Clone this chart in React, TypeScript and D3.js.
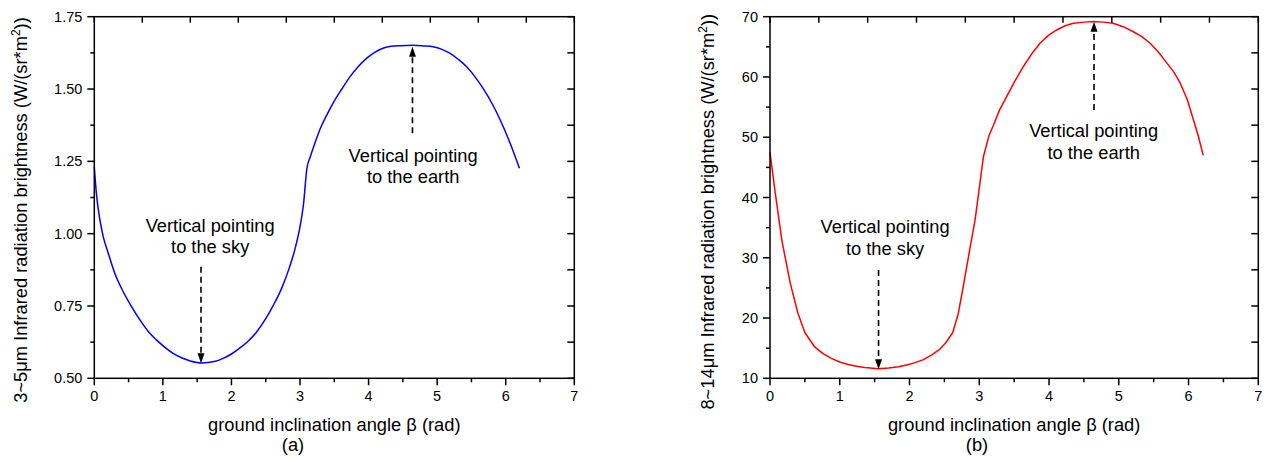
import React from 'react';
import * as d3 from 'd3';

// ---------- data ----------
const xTicks = [0, 1, 2, 3, 4, 5, 6, 7];
const xTickLabels = ['0', '1', '2', '3', '4', '5', '6', '7'];

const yTicksA = [0.5, 0.75, 1.0, 1.25, 1.5, 1.75];
const yTickLabelsA = ['0.50', '0.75', '1.00', '1.25', '1.50', '1.75'];

const yTicksB = [10, 20, 30, 40, 50, 60, 70];
const yTickLabelsB = ['10', '20', '30', '40', '50', '60', '70'];

// (a) 3~5 μm
const betaA = [0, 0.03, 0.08, 0.13, 0.2, 0.3, 0.42, 0.55, 0.67, 0.8, 0.91, 1.03, 1.15, 1.28, 1.4, 1.57, 1.75, 1.88, 2.0, 2.12, 2.25, 2.37, 2.5, 2.61, 2.73, 2.85, 2.93, 3.0, 3.05, 3.1, 3.15, 3.22, 3.29, 3.39, 3.49, 3.61, 3.73, 3.85, 3.97, 4.09, 4.21, 4.33, 4.46, 4.64, 4.8, 4.94, 5.07, 5.19, 5.31, 5.43, 5.55, 5.67, 5.8, 5.92, 6.06, 6.2];
const brightA = [1.231, 1.14, 1.05, 0.99, 0.935, 0.862, 0.8, 0.745, 0.7, 0.658, 0.632, 0.607, 0.586, 0.57, 0.56, 0.553, 0.558, 0.569, 0.584, 0.604, 0.63, 0.661, 0.706, 0.752, 0.81, 0.886, 0.95, 1.024, 1.1, 1.225, 1.266, 1.315, 1.36, 1.41, 1.455, 1.5, 1.543, 1.578, 1.606, 1.627, 1.641, 1.648, 1.65, 1.651, 1.649, 1.646, 1.637, 1.623, 1.602, 1.577, 1.543, 1.502, 1.45, 1.393, 1.315, 1.226];

// (b) 8~14 μm
const betaB = [0, 0.07, 0.17, 0.29, 0.4, 0.5, 0.64, 0.76, 0.88, 1.0, 1.12, 1.24, 1.36, 1.55, 1.7, 1.84, 1.96, 2.08, 2.2, 2.32, 2.44, 2.52, 2.62, 2.7, 2.77, 2.87, 2.94, 3.06, 3.14, 3.2, 3.29, 3.39, 3.51, 3.63, 3.75, 3.87, 3.99, 4.11, 4.23, 4.35, 4.5, 4.64, 4.78, 4.92, 5.07, 5.21, 5.33, 5.45, 5.57, 5.69, 5.79, 5.88, 5.98, 6.07, 6.14, 6.21];
const brightB = [47.5, 41.2, 32.9, 25.8, 20.8, 17.6, 15.2, 14.1, 13.3, 12.7, 12.3, 12.0, 11.8, 11.6, 11.7, 11.9, 12.2, 12.6, 13.1, 13.9, 14.9, 15.9, 17.6, 20.8, 25.2, 31.8, 36.3, 46.8, 50.3, 51.9, 54.5, 56.7, 59.3, 61.7, 63.8, 65.6, 66.9, 67.8, 68.5, 68.9, 69.1, 69.2, 69.1, 68.9, 68.3, 67.5, 66.7, 65.6, 64.1, 62.3, 60.8, 59.0, 56.3, 52.9, 50.2, 47.0];

// annotations: [arrow x, tip y, tail y, text x, line1 y, line2 y]
const annLine1 = ['Vertical pointing', 'Vertical pointing'];
const annLine2 = ['to the sky', 'to the earth'];
const annA = [
  [1.556, 0.552, 0.886, 1.69, 1.007, 0.932],
  [4.64, 1.646, 1.347, 4.65, 1.249, 1.174],
];
const annB = [
  [1.556, 11.5, 27.97, 1.65, 34.16, 30.46],
  [4.645, 69.17, 54.5, 4.64, 50.09, 46.39],
];

const FONT = '"Liberation Sans", Arial, Helvetica, sans-serif';

type PanelProps = {
  left: number; right: number; top: number; bottom: number;
  yDomain: [number, number];
  yTicks: number[]; yTickLabels: string[];
  xs: number[]; ys: number[];
  color: string;
  smooth: boolean;
  yLabelPrefix: string;
  yLabelX: number;
  yLabelY: number;
  ann: number[][];
  panelLabel: string;
  panelLabelX: number;
};

function Panel(p: PanelProps) {
  const x = d3.scaleLinear().domain([0, 7]).range([p.left, p.right]);
  const y = d3.scaleLinear().domain(p.yDomain).range([p.bottom, p.top]);
  const line = d3
    .line<number>()
    .x((_, i) => x(p.xs[i]))
    .y((d) => y(d))
    .curve(p.smooth ? d3.curveMonotoneX : d3.curveLinear);
  const pathD = line(p.ys) || '';

  const xMinor = xTicks.slice(0, -1).map((t) => t + 0.5);
  const yStep = p.yTicks[1] - p.yTicks[0];
  const yMinor = p.yTicks.slice(0, -1).map((t) => t + yStep / 2);
  const topTicks = d3.range(11).map((i) => i * 0.7);
  const rightTicks = d3.range(11).map((i) => p.yDomain[0] + (i * (p.yDomain[1] - p.yDomain[0])) / 10);

  const sw = 1.5;
  const tickMaj = 7;
  const tickMin = 4;
  const cx = (p.left + p.right) / 2;

  return (
    <g>
      {/* curve */}
      <path d={pathD} fill="none" stroke={p.color} strokeWidth={1.5} strokeLinejoin="round" />

      {/* frame */}
      <rect x={p.left} y={p.top} width={p.right - p.left} height={p.bottom - p.top} fill="none" stroke="#000" strokeWidth={sw} />

      {/* bottom ticks */}
      {xTicks.map((t) => (
        <line key={'xb' + t} x1={x(t)} x2={x(t)} y1={p.bottom} y2={p.bottom + tickMaj} stroke="#000" strokeWidth={sw} />
      ))}
      {xMinor.map((t) => (
        <line key={'xm' + t} x1={x(t)} x2={x(t)} y1={p.bottom} y2={p.bottom + tickMin} stroke="#000" strokeWidth={sw} />
      ))}
      {xTicks.map((t, i) => (
        <text key={'xl' + t} x={x(t)} y={p.bottom + 23} textAnchor="middle" fontSize={14.5} fontFamily={FONT} fill="#000">
          {xTickLabels[i]}
        </text>
      ))}
      {/* top ticks (inward) */}
      {topTicks.map((t, i) => (
        <line key={'xt' + i} x1={x(t)} x2={x(t)} y1={p.top} y2={p.top + 6} stroke="#000" strokeWidth={sw} />
      ))}

      {/* left ticks */}
      {p.yTicks.map((t) => (
        <line key={'yl' + t} x1={p.left - tickMaj} x2={p.left} y1={y(t)} y2={y(t)} stroke="#000" strokeWidth={sw} />
      ))}
      {yMinor.map((t) => (
        <line key={'ym' + t} x1={p.left - tickMin} x2={p.left} y1={y(t)} y2={y(t)} stroke="#000" strokeWidth={sw} />
      ))}
      {p.yTicks.map((t, i) => (
        <text key={'ylt' + t} x={p.left - 12} y={y(t) + 5} textAnchor="end" fontSize={14.5} fontFamily={FONT} fill="#000">
          {p.yTickLabels[i]}
        </text>
      ))}
      {/* right ticks (inward) */}
      {rightTicks.map((t, i) => (
        <line key={'yr' + i} x1={p.right - 7} x2={p.right} y1={y(t)} y2={y(t)} stroke="#000" strokeWidth={sw} />
      ))}

      {/* axis titles */}
      <text x={cx} y={p.bottom + 53} textAnchor="middle" fontSize={18.3} fontFamily={FONT} fill="#000">
        ground inclination angle β (rad)
      </text>
      <text x={p.panelLabelX} y={p.bottom + 73} textAnchor="middle" fontSize={18.3} fontFamily={FONT} fill="#000">
        {p.panelLabel}
      </text>
      <text transform={`translate(${p.yLabelX},${p.yLabelY}) rotate(-90)`} textAnchor="middle" fontSize={18.3} fontFamily={FONT} fill="#000">
        {p.yLabelPrefix} Infrared radiation brightness (W/(sr*m
        <tspan dy={-7} fontSize={12}>2</tspan>
        <tspan dy={7}>))</tspan>
      </text>

      {/* annotations */}
      {p.ann.map((a, i) => {
        const ax = x(a[0]);
        const tipY = y(a[1]);
        const tailY = y(a[2]);
        const dir = tailY > tipY ? 1 : -1;
        const headLen = 10;
        const headW = 3.5;
        const baseY = tipY + dir * headLen;
        return (
          <g key={'ann' + i}>
            <line x1={ax} x2={ax} y1={tailY} y2={baseY} stroke="#000" strokeWidth={1.6} strokeDasharray="6,4" />
            <polygon points={`${ax},${tipY} ${ax - headW},${baseY} ${ax + headW},${baseY}`} fill="#000" />
            <text x={x(a[3])} y={y(a[4])} textAnchor="middle" fontSize={18.3} fontFamily={FONT} fill="#000">
              {annLine1[i]}
            </text>
            <text x={x(a[3])} y={y(a[5])} textAnchor="middle" fontSize={18.3} fontFamily={FONT} fill="#000">
              {annLine2[i]}
            </text>
          </g>
        );
      })}
    </g>
  );
}

export default function App() {
  return (
    <svg
      width={1272}
      height={460}
      viewBox="0 0 1272 460"
      style={{ position: 'absolute', left: 0, top: 0, background: '#fff' }}
    >
      <rect x={0} y={0} width={1272} height={460} fill="#fff" />
      <Panel
        left={94.3}
        right={574.3}
        top={16.7}
        bottom={378.3}
        yDomain={[0.5, 1.75]}
        yTicks={yTicksA}
        yTickLabels={yTickLabelsA}
        xs={betaA}
        ys={brightA}
        color="#0000ff"
        smooth={true}
        yLabelPrefix="3~5μm"
        yLabelX={27}
        yLabelY={210}
        ann={annA}
        panelLabel="(a)"
        panelLabelX={293}
      />
      <Panel
        left={770}
        right={1258.3}
        top={16.7}
        bottom={378.3}
        yDomain={[10, 70]}
        yTicks={yTicksB}
        yTickLabels={yTickLabelsB}
        xs={betaB}
        ys={brightB}
        color="#ff0000"
        smooth={false}
        yLabelPrefix="8~14μm"
        yLabelX={714}
        yLabelY={211.7}
        ann={annB}
        panelLabel="(b)"
        panelLabelX={977}
      />
    </svg>
  );
}
